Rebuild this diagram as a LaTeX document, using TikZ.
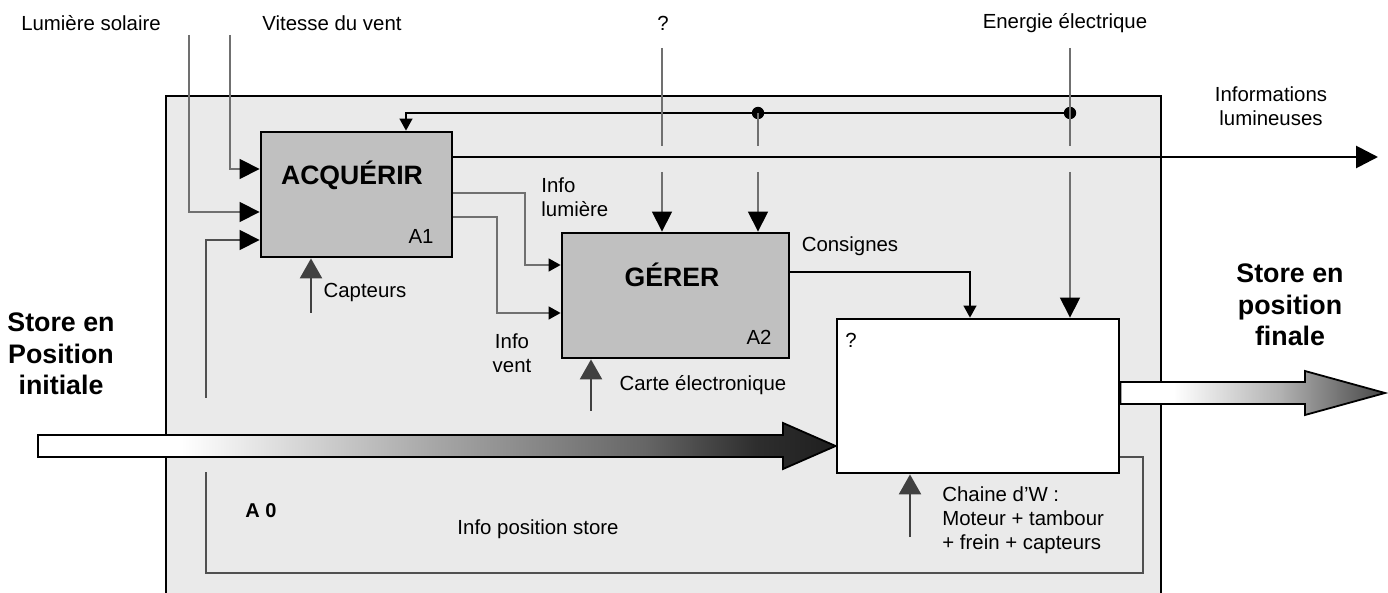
\documentclass[tikz,border=0pt]{standalone}
\usepackage{fontspec}
\setmainfont{Liberation Sans}
\usetikzlibrary{arrows.meta}
\definecolor{boxfill}{HTML}{C0C0C0}
\definecolor{outerfill}{HTML}{EAEAEA}
\definecolor{linegray}{HTML}{707070}
\definecolor{loopgray}{HTML}{505050}
\definecolor{mechgray}{HTML}{404040}
\pgfdeclarehorizontalshading{leftflow}{100bp}{color(0bp)=(white); color(25bp)=(white); color(34bp)=(white); color(50bp)=(black!35); color(63bp)=(black!60); color(70bp)=(black!82); color(75bp)=(black!88); color(100bp)=(black!88)}
\pgfdeclarehorizontalshading{rightflow}{100bp}{color(0bp)=(white); color(25bp)=(white); color(35bp)=(white); color(55bp)=(black!30); color(68bp)=(black!58); color(75bp)=(black!72); color(100bp)=(black!72)}
\begin{document}
\begin{tikzpicture}[x=0.5pt,y=-0.5pt,
  font=\fontsize{10.2}{12}\selectfont,
  outerbox/.style={draw=black, line width=0.6pt, fill=outerfill, inner sep=0pt},
  fbox/.style={draw=black, line width=1.4pt, fill=boxfill, inner sep=0pt},
  qboxstyle/.style={draw=black, line width=1.4pt, fill=white, inner sep=0pt},
  lbl/.style={inner sep=0pt, align=center},
  title/.style={inner sep=0pt, font=\fontsize{13.3}{15}\selectfont\bfseries},
  storel/.style={inner sep=0pt, align=center, font=\fontsize{13.4}{15.7}\selectfont\bfseries},
  inl/.style={draw=linegray, line width=0.65pt},
  fbl/.style={draw=black, line width=0.6pt},
  loopl/.style={draw=loopgray, line width=0.65pt},
  thickl/.style={draw=black, line width=1.4pt},
  bigtip/.style={-{Triangle[length=10pt,width=10pt,color=black]}},
  smalltip/.style={-{Triangle[length=6pt,width=6.5pt,color=black]}},
  infotip/.style={-{Triangle[length=11pt,width=11pt,color=black]}},
  mech/.style={draw=mechgray, line width=1.2pt, -{Triangle[length=10pt,width=11pt,color=mechgray]}},
  flowarrow/.style={draw=black, line width=0.9pt}
]
\useasboundingbox (0,0) rectangle (1388,593);

% outer A0 box (runs past the bottom of the page)
\node[outerbox, minimum width=497.5pt, minimum height=254.5pt] (outer) at (663.5,350.5) {};

% boxes
\node[fbox, minimum width=95.5pt, minimum height=62.5pt] (acq) at (356.5,194.5) {};
\node[fbox, minimum width=113.5pt, minimum height=62.5pt] (ger) at (675.5,295.5) {};
\node[qboxstyle, minimum width=141pt, minimum height=77pt] (qbox) at (978,396) {};

% top labels
\node[lbl] (tLum) at (91,23) {Lumière solaire};
\node[lbl] (tVit) at (332,23) {Vitesse du vent};
\node[lbl] (tQ) at (663,23) {?};
\node[lbl] (tEn) at (1065,23) {Energie électrique};

% named free ends
\coordinate (lumTop) at (189,35);
\coordinate (vitTop) at (230,35);
\coordinate (qTop) at (662,48);
\coordinate (enTop) at (1070,48);
\coordinate (dotG) at (758,113);
\coordinate (dotE) at (1070,113);
\coordinate (infoEnd) at (1378,157);
\coordinate (capBot) at (311,313);
\coordinate (carBot) at (591,411);
\coordinate (chBot) at (910,537);

% inputs to ACQUERIR
\draw[inl, bigtip] (vitTop) |- (acq.west |- 0,169);
\draw[inl, bigtip] (lumTop) |- (acq.west |- 0,212);

% feedback from energy
\draw[fbl, smalltip] (dotE) -- (406,113) -- (acq.north -| 406,0);
\fill (dotE) circle (3.1pt);
\fill (dotG) circle (3.1pt);

% vertical supply lines with gaps at the thick line
\draw[inl] (enTop) -- (1070,146);
\draw[inl, bigtip] (1070,172) -- (qbox.north -| 1070,0);
\draw[inl] (qTop) -- (662,146);
\draw[inl, bigtip] (662,172) -- (ger.north -| 662,0);
\draw[inl] (dotG) -- (758,146);
\draw[inl, bigtip] (758,172) -- (ger.north -| 758,0);

% informations lumineuses
\draw[thickl, infotip] (acq.east |- 0,157) -- (infoEnd);

% info lumiere / info vent
\draw[inl, smalltip] (acq.east |- 0,193) -| (525,265) -- (ger.west |- 0,265);
\draw[inl, smalltip] (acq.east |- 0,217) -| (497,313) -- (ger.west |- 0,313);

% consignes
\draw[fbl, smalltip] (ger.east |- 0,272) -| (qbox.north -| 970,0);

% mechanisms
\draw[mech] (capBot) -- (acq.south -| 311,0);
\draw[mech] (carBot) -- (ger.south -| 591,0);
\draw[mech] (chBot) -- (qbox.south -| 910,0);

% loop: info position store
\draw[loopl] (qbox.east |- 0,457) -- (1143,457) -- (1143,573) -- (206,573) -- (206,472);
\draw[loopl, bigtip] (206,398) |- (acq.west |- 0,240);

% big flow arrows
\path[flowarrow, shading=leftflow] (38,435) -- (783,435) -- (783,423) -- (qbox.west |- 0,446) -- (783,469) -- (783,457) -- (38,457) -- cycle;
\path[flowarrow, shading=rightflow] (qbox.east |- 0,382) -- (1305,382) -- (1305,371) -- (1385,393) -- (1305,415) -- (1305,404) -- (qbox.east |- 0,404) -- cycle;

% box texts
\node[title] (acqT) at (352,175) {ACQUÉRIR};
\node[lbl] (a1) at (421,236) {A1};
\node[title] (gerT) at (672,275) {GÉRER};
\node[lbl] (a2) at (759,337) {A2};
\node[lbl] (qT) at (851,340) {?};

% other labels
\node[lbl, anchor=west, align=left] (infoLum) at (541,197) {Info\\lumière};
\node[lbl] (cons) at (850,246) {Consignes};
\node[lbl] (infoVent) at (512,353) {Info\\vent};
\node[lbl] (capL) at (365,292) {Capteurs};
\node[lbl] (carL) at (703,385) {Carte électronique};
\node[lbl, anchor=west, align=left] (chL) at (942,520) {Chaine d’W :\\Moteur + tambour\\+ frein + capteurs};
\node[lbl, font=\fontsize{10}{12}\selectfont\bfseries] (a0) at (261,511) {A 0};
\node[lbl] (ipos) at (538,529) {Info position store};
\node[lbl] (infoL) at (1271,106) {Informations\\lumineuses};
\node[storel] (sIn) at (61,354) {Store en\\Position\\initiale};
\node[storel] (sOut) at (1290,305) {Store en\\position\\finale};
\end{tikzpicture}
\end{document}
